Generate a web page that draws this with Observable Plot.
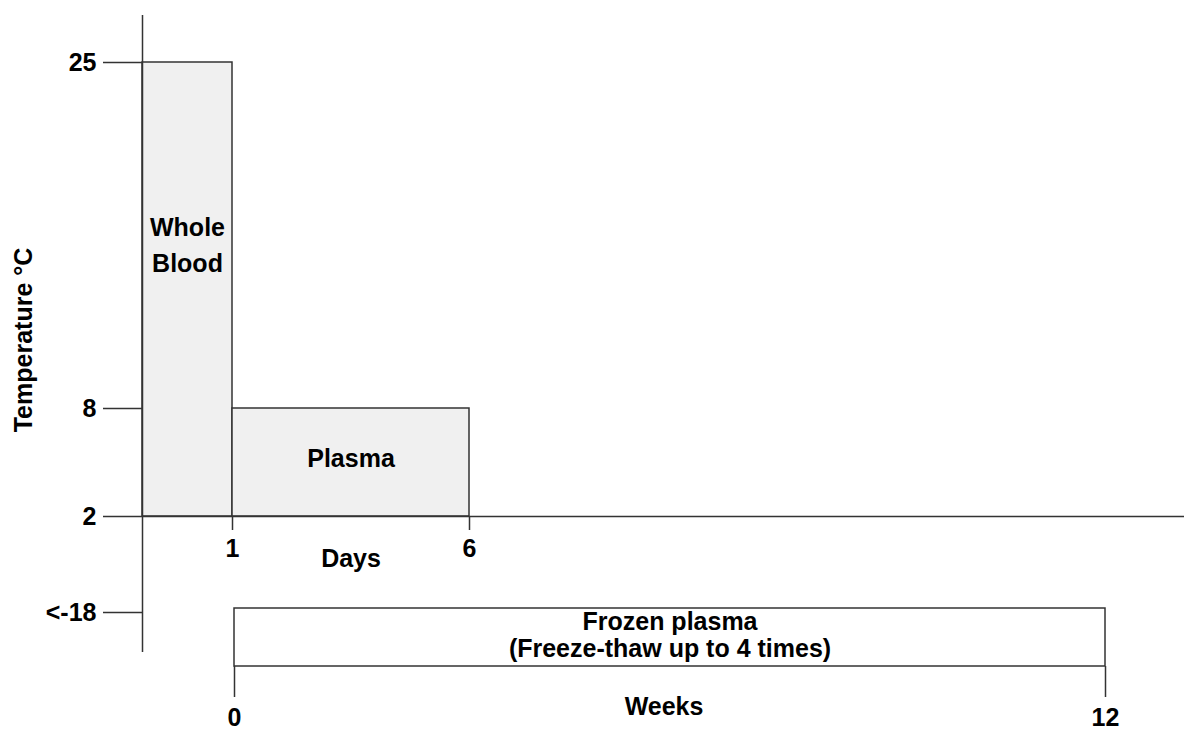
<!DOCTYPE html>
<html>
<head>
<meta charset="utf-8">
<script src="https://cdn.jsdelivr.net/npm/d3@7"></script>
<script src="https://cdn.jsdelivr.net/npm/@observablehq/plot@0.6"></script>
<style>
  body { margin: 0; background: #fff; }
  #chart { position: relative; width: 1184px; height: 730px; }
  #chart svg { position: absolute; left: 0; top: 0; }
</style>
</head>
<body>
<div id="chart"></div>
<script>
// ---- data ----
const temperatureTicks = [25, 8, 2, -18];
const temperatureLabels = ["25", "8", "2", "<-18"];
const dayTicks = [1, 6];
const weekTicks = [0, 12];
const roomTempProducts = [
  {name: "Whole\nBlood", dayStart: 0, dayEnd: 1, tempLow: 2, tempHigh: 25},
  {name: "Plasma", dayStart: 1, dayEnd: 6, tempLow: 2, tempHigh: 8}
];
const frozenProducts = [
  {name: "Frozen plasma\n(Freeze-thaw up to 4 times)", weekStart: 0, weekEnd: 12, temp: -18}
];
const yTitle = "Temperature °C";
const dayTitle = "Days";
const weekTitle = "Weeks";

// ---- schematic (non-uniform) spacing of the original drawing ----
const tempSpacing = d3.scaleLinear().domain([-18, 2, 8, 25]).range([0, 96, 204, 550]);
const daySpacing = d3.scaleLinear().domain([0, 1, 6]).range([0, 90, 327]);

// ---- style ----
const font = "'Liberation Sans', Arial, Helvetica, sans-serif";
const ink = "#333";
const baseStyle = {fontFamily: font, fontSize: "25px", fontWeight: "bold", color: "#000", background: "transparent", overflow: "visible"};
const txt = {fontSize: 25, fontWeight: "bold", fill: "#000"};
const baseline = temperatureTicks[2];

// ---- days / temperature panel ----
const plotA = Plot.plot({
  width: 1184, height: 730,
  marginLeft: 142, marginRight: 0, marginTop: 15, marginBottom: 78,
  style: baseStyle,
  x: {transform: daySpacing, domain: [0, 1042], axis: null},
  y: {transform: tempSpacing, domain: [-40, 597], axis: null},
  marks: [
    Plot.rect(roomTempProducts, {x1: "dayStart", x2: "dayEnd", y1: "tempLow", y2: "tempHigh",
      fill: "#f0f0f0", stroke: ink, strokeWidth: 1.5}),
    Plot.ruleX([0], {stroke: ink, strokeWidth: 1.5}),
    Plot.ruleY([baseline], {stroke: ink, strokeWidth: 1.5}),
    Plot.axisY(temperatureTicks, {
      tickSize: 39, tickPadding: 7, stroke: ink, strokeWidth: 1.5,
      tickFormat: d => temperatureLabels[temperatureTicks.indexOf(d)],
      label: null, ...txt
    }),
    Plot.ruleX(dayTicks, {x: d => d, y1: () => baseline, y2: () => baseline, insetBottom: -14,
      stroke: ink, strokeWidth: 1.5}),
    Plot.text(dayTicks, {x: d => d, y: () => baseline, dy: 32, text: d => String(d), ...txt}),
    Plot.text([dayTitle], {x: () => d3.mean(dayTicks), y: () => baseline, dy: 42, text: d => d, ...txt}),
    Plot.text([roomTempProducts[0]], {
      x: d => (d.dayStart + d.dayEnd) / 2,
      y: d => (d.tempHigh + roomTempProducts[1].tempHigh) / 2,
      dy: 7, text: "name", lineHeight: 1.42, ...txt
    }),
    Plot.text([roomTempProducts[1]], {
      x: d => (d.dayStart + d.dayEnd) / 2,
      y: d => (d.tempHigh + d.tempLow) / 2,
      dy: -4, text: "name", ...txt
    }),
    Plot.text([yTitle], {frameAnchor: "left", textAnchor: "middle", rotate: -90, dx: -119, dy: 6,
      text: d => d, ...txt})
  ]
});

// ---- weeks / frozen panel ----
const plotB = Plot.plot({
  width: 1184, height: 730,
  marginLeft: 234, marginRight: 79, marginTop: 608, marginBottom: 64,
  style: baseStyle,
  x: {domain: [0, 12], axis: null},
  marks: [
    Plot.rect(frozenProducts, {x1: "weekStart", x2: "weekEnd", fill: "none", stroke: ink, strokeWidth: 1.5}),
    Plot.text(frozenProducts, {x: d => (d.weekStart + d.weekEnd) / 2, frameAnchor: "middle", dy: -3,
      text: "name", lineHeight: 1.1, ...txt}),
    Plot.axisX(weekTicks, {anchor: "bottom", tickSize: 31, tickPadding: 11, stroke: ink, strokeWidth: 1.5,
      tickFormat: d => String(d), label: null, ...txt}),
    Plot.text([weekTitle], {frameAnchor: "bottom", dx: -6, dy: 48, text: d => d, ...txt})
  ]
});

const chart = document.getElementById("chart");
chart.appendChild(plotA);
chart.appendChild(plotB);
</script>
</body>
</html>
